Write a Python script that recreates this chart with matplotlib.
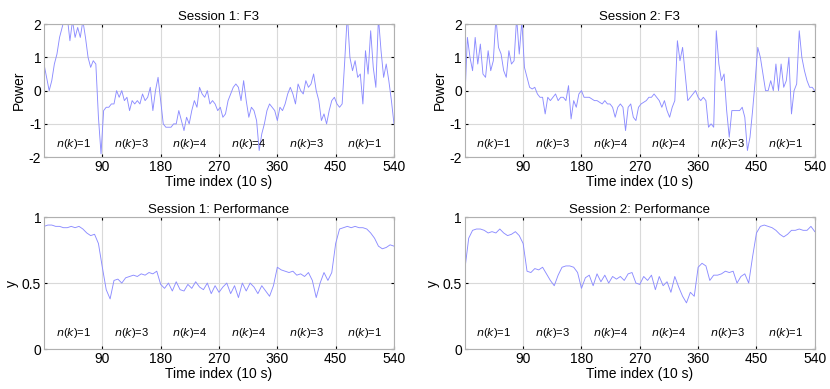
import numpy as np
import matplotlib
matplotlib.use('Agg')
import matplotlib.pyplot as plt

plt.rcParams['font.family'] = ['Liberation Sans', 'DejaVu Sans']

# F3 power, one value every 4 samples (0..540)
f3_s1 = [0.8, 0.4, 0.0, 0.3, 0.8, 1.1, 1.6, 1.9, 2.2, 2.2,
         1.5, 2.1, 1.6, 1.9, 1.6, 2.1, 1.6, 1.0, 0.7, 0.9,
         0.8, -0.8, -1.9, -0.6, -0.5, -0.5, -0.4, -0.4, 0.0, -0.2,
         0.0, -0.3, -0.2, -0.6, -0.3, -0.4, -0.3, -0.4, -0.1, -0.3,
         -0.2, 0.1, -0.6, 0.0, 0.4, -0.3, -1.0, -1.1, -1.1, -1.1,
         -1.0, -1.0, -0.6, -0.9, -1.2, -0.8, -1.0, -0.6, -0.3, -0.5,
         0.1, -0.1, -0.2, 0.0, -0.4, -0.3, -0.4, -0.6, -0.5, -0.8,
         -0.7, -0.3, -0.1, 0.1, 0.2, 0.1, -0.3, 0.3, -0.3, -0.8,
         -0.5, -0.6, -0.9, -1.8, -1.3, -1.0, -0.6, -0.4, -0.5, -0.6,
         -0.9, -0.5, -0.6, -0.4, -0.1, 0.1, -0.1, -0.4, 0.2, 0.0,
         -0.1, 0.3, 0.1, 0.2, 0.5, 0.0, -0.3, -0.9, -0.7, -1.0,
         -0.6, -0.3, -0.2, -0.4, -0.5, -0.4, 0.9, 2.3, 1.0, 0.6,
         0.9, 0.4, 0.5, -0.4, 1.2, 0.5, 1.8, 0.7, 0.1, 2.2,
         1.2, 0.4, 0.8, 0.3, -0.3, -1.0]
f3_s2 = [-0.3, 1.6, 1.0, 0.6, 1.6, 0.8, 1.4, 0.5, 0.4, 1.2,
         0.6, 0.9, 2.2, 1.3, 1.1, 0.6, 0.4, 1.2, 0.8, 0.9,
         2.2, 1.1, 2.1, 0.7, 0.4, 0.1, 0.05, 0.1, -0.1, -0.2,
         -0.2, -0.7, -0.2, -0.3, -0.2, -0.1, -0.3, -0.2, -0.2, -0.3,
         0.15, -0.85, -0.3, -0.5, -0.1, 0.0, -0.2, -0.2, -0.2, -0.25,
         -0.3, -0.3, -0.35, -0.4, -0.3, -0.4, -0.4, -0.5, -0.8, -0.5,
         -0.4, -0.5, -1.2, -0.5, -0.4, -0.8, -0.9, -0.5, -0.4, -0.35,
         -0.3, -0.2, -0.2, -0.1, -0.2, -0.3, -0.5, -0.3, -0.6, -0.8,
         -0.5, -0.3, 1.5, 0.9, 1.3, 0.5, -0.3, -0.2, -0.1, 0.0,
         -0.2, -0.3, -0.2, -0.3, -1.1, -1.0, -1.1, 1.8, 0.8, 0.3,
         0.5, -0.6, -1.4, -0.6, -0.6, -0.6, -0.6, -0.5, -0.8, -1.8,
         -1.4, -0.6, 0.3, 1.3, 1.0, 0.5, 0.0, 0.0, 0.3, 0.0,
         0.8, 0.0, 0.8, 0.1, 0.3, 1.0, -0.7, 0.0, 0.2, 1.8,
         1.0, 0.6, 0.3, 0.1, 0.1, 0.0]

# performance, one value every 6 samples (0..540)
perf_s1 = [0.93, 0.94, 0.94, 0.93, 0.93, 0.92, 0.92, 0.93, 0.92, 0.93,
           0.91, 0.88, 0.86, 0.87, 0.80, 0.62, 0.45, 0.38, 0.52, 0.53,
           0.50, 0.54, 0.55, 0.56, 0.55, 0.57, 0.56, 0.58, 0.57, 0.59,
           0.49, 0.46, 0.50, 0.44, 0.51, 0.45, 0.44, 0.49, 0.46, 0.51,
           0.47, 0.45, 0.50, 0.42, 0.48, 0.43, 0.47, 0.50, 0.42, 0.48,
           0.39, 0.50, 0.44, 0.50, 0.47, 0.42, 0.48, 0.44, 0.40, 0.48,
           0.62, 0.60, 0.59, 0.58, 0.59, 0.56, 0.57, 0.55, 0.58, 0.52,
           0.39, 0.50, 0.58, 0.52, 0.58, 0.80, 0.91, 0.92, 0.93, 0.92,
           0.93, 0.92, 0.92, 0.91, 0.88, 0.84, 0.78, 0.76, 0.77, 0.79,
           0.78]
perf_s2 = [0.60, 0.84, 0.90, 0.91, 0.91, 0.90, 0.88, 0.89, 0.88, 0.91,
           0.88, 0.86, 0.87, 0.89, 0.86, 0.80, 0.59, 0.58, 0.61, 0.60,
           0.62, 0.57, 0.52, 0.48, 0.56, 0.62, 0.63, 0.63, 0.62, 0.58,
           0.46, 0.54, 0.56, 0.48, 0.57, 0.51, 0.56, 0.50, 0.55, 0.53,
           0.55, 0.52, 0.57, 0.58, 0.50, 0.49, 0.55, 0.52, 0.56, 0.45,
           0.55, 0.48, 0.51, 0.43, 0.55, 0.47, 0.40, 0.35, 0.43, 0.40,
           0.62, 0.65, 0.63, 0.52, 0.56, 0.56, 0.57, 0.59, 0.58, 0.59,
           0.50, 0.55, 0.57, 0.50, 0.70, 0.88, 0.93, 0.94, 0.93, 0.92,
           0.90, 0.87, 0.85, 0.87, 0.90, 0.90, 0.91, 0.90, 0.90, 0.93,
           0.89]

blocks = ['1', '3', '4', '4', '3', '1']
xticks = [90, 180, 270, 360, 450, 540]


def panel(rect, t, y, title, ylabel, ylim, yticks, ytl, label_y):
    ax = plt.axes(rect)
    ax.plot(t, y, color='#8c8cff', lw=0.65)
    ax.set_xlim(0, 540)
    ax.set_ylim(*ylim)
    ax.set_xticks(xticks)
    ax.set_yticks(yticks)
    ax.set_yticklabels(ytl)
    ax.grid(True, color='#d9d9d9', lw=0.8)
    ax.set_axisbelow(True)
    ax.tick_params(direction='in', top=True, right=True, length=2.5, width=0.8,
                   labelsize=10, pad=2)
    for s in ax.spines.values():
        s.set_color('#b0b0b0')
    for i, b in enumerate(blocks):
        ax.text(45 + 90 * i, label_y, r'$n$($k$)=' + b, ha='center', va='center',
                fontsize=8)
    ax.set_title(title, fontsize=9.5, pad=3)
    ax.set_xlabel('Time index (10 s)', fontsize=10, labelpad=1)
    ax.set_ylabel(ylabel, fontsize=10, labelpad=2)
    return ax


plt.figure(figsize=(8.3, 3.89), dpi=100)

t4 = np.arange(len(f3_s1)) * 4
t6 = np.arange(len(perf_s1)) * 6

panel([0.053, 0.596, 0.4217, 0.342], t4, f3_s1, 'Session 1: F3', 'Power',
      (-2, 2), [-2, -1, 0, 1, 2], ['-2', '-1', '0', '1', '2'], -1.6)
panel([0.560, 0.596, 0.4217, 0.342], np.arange(len(f3_s2)) * 4, f3_s2, 'Session 2: F3', 'Power',
      (-2, 2), [-2, -1, 0, 1, 2], ['-2', '-1', '0', '1', '2'], -1.6)
panel([0.053, 0.1028, 0.4217, 0.339], t6, perf_s1, 'Session 1: Performance', 'y',
      (0, 1), [0, 0.5, 1], ['0', '0.5', '1'], 0.12)
panel([0.560, 0.1028, 0.4217, 0.339], np.arange(len(perf_s2)) * 6, perf_s2, 'Session 2: Performance', 'y',
      (0, 1), [0, 0.5, 1], ['0', '0.5', '1'], 0.12)

plt.savefig('out.png', dpi=100)
